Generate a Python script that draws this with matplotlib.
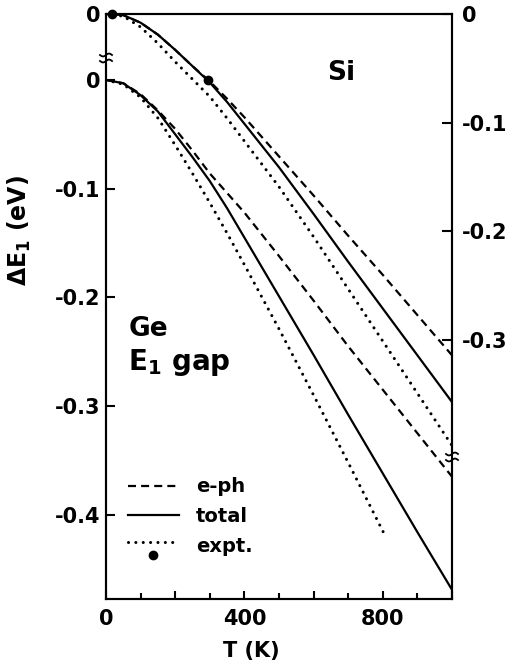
import matplotlib
matplotlib.use('Agg')
import matplotlib.pyplot as plt
from matplotlib.lines import Line2D
from matplotlib.legend_handler import HandlerBase
import numpy as np

plt.rcParams['font.family'] = ['DejaVu Sans']
plt.rcParams['font.weight'] = 'bold'
plt.rcParams['mathtext.fontset'] = 'dejavusans'

# Ge (left axis), temperatures in K, shifts in eV
T_ge = [0, 50, 100, 150, 200, 250, 300, 350, 400, 500, 600, 700, 800, 900, 1000]
ge_eph = [0, -0.003, -0.013, -0.028, -0.045, -0.065, -0.086, -0.104, -0.122,
          -0.162, -0.203, -0.245, -0.285, -0.325, -0.365]
ge_total = [0, -0.003, -0.014, -0.029, -0.050, -0.071, -0.093, -0.118, -0.145,
            -0.199, -0.253, -0.308, -0.362, -0.416, -0.469]
T_ge_expt = [0, 50, 100, 150, 200, 250, 300, 350, 400, 500, 600, 700, 800, 806]
ge_expt = [0, -0.004, -0.016, -0.035, -0.060, -0.086, -0.113, -0.141, -0.170,
           -0.229, -0.290, -0.352, -0.415, -0.419]

# Si (right axis)
T_si = [0, 50, 100, 150, 200, 250, 300, 350, 400, 500, 600, 700, 800, 900, 1000]
si_eph = [0, -0.001, -0.008, -0.019, -0.033, -0.048, -0.062, -0.078, -0.095,
          -0.131, -0.167, -0.204, -0.240, -0.277, -0.314]
si_total = [0, -0.001, -0.008, -0.019, -0.033, -0.048, -0.063, -0.081, -0.101,
            -0.141, -0.184, -0.228, -0.271, -0.314, -0.357]
si_expt = [0, -0.002, -0.012, -0.027, -0.044, -0.060, -0.076, -0.096, -0.117,
           -0.159, -0.205, -0.253, -0.301, -0.349, -0.397]
T_si_pts = [17, 295]
si_pts = [0, -0.061]

offset = 0.0607          # Si zero sits this far above Ge zero
ge_lim = (-0.4775, offset)
si_lim = (ge_lim[0] - offset, ge_lim[1] - offset)

LW = 1.6
dash = dict(linestyle=(0, (3.6, 2.3)), lw=LW, color='black')
solid = dict(linestyle='-', lw=LW, color='black')
dot = dict(linestyle=(0, (0.01, 2.4)), lw=2.2, color='black', dash_capstyle='round')

fig = plt.figure(figsize=(5.12, 6.66), dpi=100)
ax = fig.add_axes([106 / 512, 1 - 599 / 666, 346 / 512, 585 / 666])
ax2 = ax.twinx()

ax.plot(T_ge, ge_eph, **dash)
ax.plot(T_ge, ge_total, **solid)
ax.plot(T_ge_expt, ge_expt, **dot)

ax2.plot(T_si, si_eph, **dash)
ax2.plot(T_si, si_total, **solid)
ax2.plot(T_si, si_expt, **dot)
ax2.plot(T_si_pts, si_pts, 'o', color='black', ms=6, clip_on=False, zorder=5)

ax.set_xlim(0, 1000)
ax.set_ylim(*ge_lim)
ax2.set_ylim(*si_lim)

for s in ['left', 'right', 'top', 'bottom']:
    ax.spines[s].set_linewidth(1.5)
    ax2.spines[s].set_linewidth(1.5)

ax.set_xticks([0, 200, 400, 600, 800, 1000])
ax.set_xticklabels(['0', '', '400', '', '800', ''])
ax.set_xticks([100, 300, 500, 700, 900], minor=True)
ax.tick_params(axis='x', which='major', direction='in', length=6, width=1.5,
               pad=7, labelsize=15)
ax.tick_params(axis='x', which='minor', direction='in', length=4.3, width=1.5)

ax.set_yticks([offset, 0, -0.1, -0.2, -0.3, -0.4])
ax.set_yticklabels(['0', '0', '-0.1', '-0.2', '-0.3', '-0.4'])
ax.tick_params(axis='y', direction='in', length=6.5, width=1.5, pad=4, labelsize=15)

ax2.set_yticks([0, -0.1, -0.2, -0.3])
ax2.set_yticklabels(['0', '-0.1', '-0.2', '-0.3'])
ax2.tick_params(axis='y', direction='in', length=7, width=1.5, pad=7, labelsize=15)

ax.set_xlabel('T (K)', fontsize=15, fontweight='bold')
ax.xaxis.set_label_coords(0.42, -0.072)
ax.set_ylabel(r'ΔE$_\mathbf{1}$ (eV)', fontsize=17, fontweight='bold')
ax.yaxis.set_label_coords(-0.21, 0.63)

ax.text(0.064, 0.484, 'Ge', transform=ax.transAxes, fontsize=19, fontweight='bold',
        va='top', ha='left')
ax.text(0.064, 0.43, r'E$_\mathbf{1}$ gap', transform=ax.transAxes, fontsize=20,
        fontweight='bold', va='top', ha='left')
ax.text(0.64, 0.921, 'Si', transform=ax.transAxes, fontsize=19, fontweight='bold',
        va='top', ha='left')


# axis break marks
def axis_break(xf, yf):
    px, py = 1 / 346, 1 / 585
    ax.plot([xf, xf], [yf - 3 * py, yf + 3 * py], color='white', lw=3,
            transform=ax.transAxes, clip_on=False, zorder=6)
    s = np.linspace(-1, 1, 9)
    for dy in (-3, 3):
        ax.plot(xf + 6 * s * px, yf + (dy + 1.5 * np.sin(np.pi * s)) * py,
                color='black', lw=1.3, transform=ax.transAxes, clip_on=False, zorder=7)


axis_break(0.0, (599 - 58) / 585)
axis_break(1.0, (599 - 457) / 585)


class DotLineHandler(HandlerBase):
    def create_artists(self, legend, orig_handle, xdescent, ydescent, width,
                       height, fontsize, trans):
        y = 0.5 * height - ydescent + 2
        line = Line2D([-xdescent, width - xdescent], [y, y], transform=trans, **dot)
        pt = Line2D([0.5 * width - xdescent], [y - 9], marker='o', ms=6,
                    color='black', linestyle='none', transform=trans)
        return [line, pt]


h_eph = Line2D([], [], **dash)
h_tot = Line2D([], [], **solid)
h_exp = Line2D([], [], **dot)
ax.legend([h_eph, h_tot, h_exp], ['e-ph', 'total', 'expt.'],
          handler_map={h_exp: DotLineHandler()},
          loc='upper left', bbox_to_anchor=(0.064, 0.208), frameon=False,
          fontsize=14, handlelength=2.6, handletextpad=0.9, labelspacing=0.55,
          borderpad=0, borderaxespad=0)

fig.savefig('out.png', dpi=100)
